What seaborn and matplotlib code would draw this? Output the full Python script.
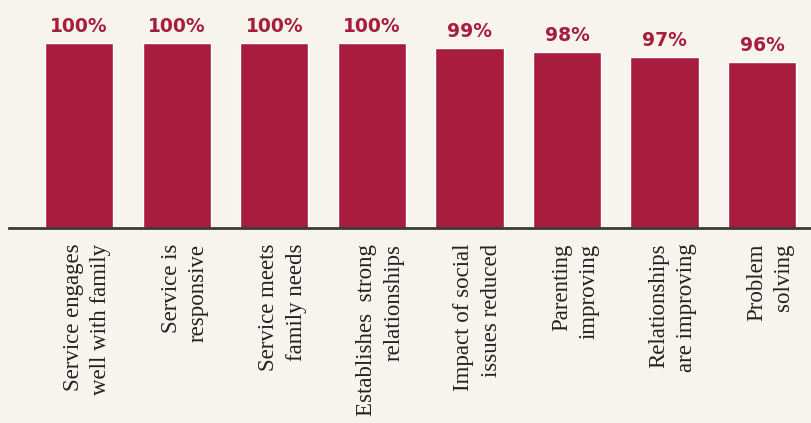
import matplotlib
matplotlib.use("Agg")
import matplotlib.pyplot as plt
import matplotlib.transforms as mtransforms
import seaborn as sns
import pandas as pd

categories = [
    "Service engages\nwell with family",
    "Service is\nresponsive",
    "Service meets\nfamily needs",
    "Establishes  strong\nrelationships",
    "Impact of social\nissues reduced",
    "Parenting\nimproving",
    "Relationships\nare improving",
    "Problem\nsolving",
]
values = [100, 100, 100, 100, 99, 98, 97, 96]
value_labels = ["100%", "100%", "100%", "100%", "99%", "98%", "97%", "96%"]

BG = "#F7F4EE"
BAR = "#A81C3E"

sns.set_theme(style="white")
plt.rcParams["font.family"] = ["DejaVu Sans"]

df = pd.DataFrame({"category": categories, "value": values})

fig = plt.figure(figsize=(8.11, 4.23), dpi=100, facecolor=BG)
ax = fig.add_axes([0.011, 0.46, 0.989, 0.54])
ax.set_facecolor(BG)

sns.barplot(data=df, x="category", y="value", color=BAR, saturation=1,
            width=0.7, ax=ax)

ax.set_ylim(61, 109)
ax.set_xlim(-0.72, 7.5)

ax.bar_label(ax.containers[0], labels=value_labels, padding=5,
             color=BAR, fontsize=13.5, fontweight="bold")

ax.set_xlabel("")
ax.set_ylabel("")
ax.set_yticks([])
ax.set_xticks(range(len(categories)))
ax.set_xticklabels(categories, rotation=90, fontsize=16.5,
                   family=["Liberation Serif", "DejaVu Serif"],
                   color="#222222", multialignment="right", linespacing=1.4)
ax.tick_params(axis="x", length=0, pad=11)
offset = mtransforms.ScaledTranslation(8 / 100, 0, fig.dpi_scale_trans)
for lab in ax.get_xticklabels():
    lab.set_transform(lab.get_transform() + offset)

for s in ["top", "right", "left"]:
    ax.spines[s].set_visible(False)
ax.spines["bottom"].set_color("#3a3a3a")
ax.spines["bottom"].set_linewidth(2)

fig.savefig("out.png", dpi=100, facecolor=BG)
